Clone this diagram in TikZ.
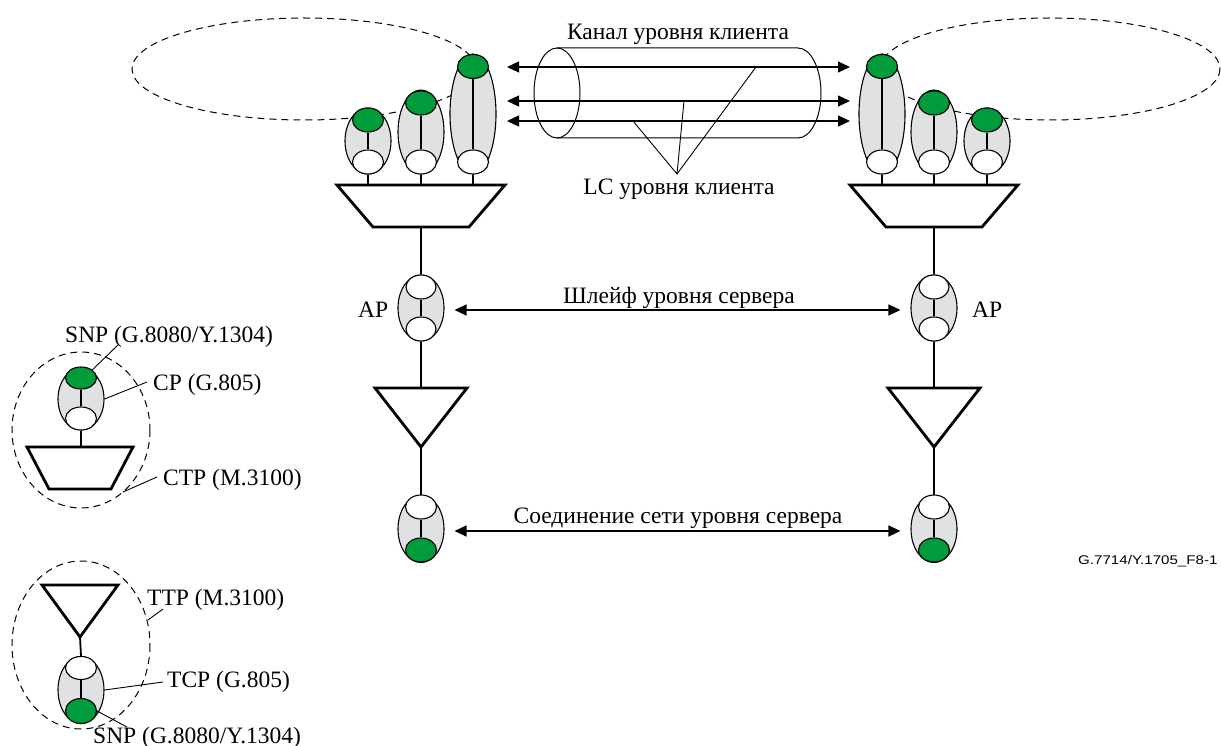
\documentclass[tikz,border=0pt]{standalone}
\usepackage{fontspec}
\setmainfont{Liberation Serif}
\newfontfamily\figsans{Liberation Sans}
\usetikzlibrary{shapes.geometric,arrows.meta}
\definecolor{snpgreen}{RGB}{0,155,58}
\definecolor{ovgray}{RGB}{224,225,227}
\newcommand\lblsize{\fontsize{23.5}{28}\selectfont}
\begin{document}
\begin{tikzpicture}[x=1pt,y=-1pt,
  cpoval/.style={ellipse, draw, line width=1.1pt, fill=ovgray, inner sep=0pt, minimum width=46pt},
  snpdot/.style={ellipse, draw, line width=1.1pt, fill=snpgreen, inner sep=0pt, minimum width=31pt, minimum height=24pt},
  cpdot/.style={ellipse, draw, line width=1.1pt, fill=white, inner sep=0pt, minimum width=31pt, minimum height=24pt},
  stem/.style={line width=1.8pt},
  link/.style={line width=1.8pt},
  fnshape/.style={line width=2.8pt, line join=miter},
  ring/.style={line width=1pt, dash pattern=on 7pt off 5pt},
  biarrow/.style={line width=1.2pt, {Triangle[length=12pt,width=11pt]}-{Triangle[length=12pt,width=11pt]}},
  leader/.style={line width=0.9pt},
  lbl/.style={font=\lblsize, inner sep=0pt}
]
\useasboundingbox (0,0) rectangle (1221,746);

% ---- dashed rings (client layer subnetworks)
\draw[ring] (304,69) ellipse [x radius=172, y radius=51];
\draw[ring] (1050,69) ellipse [x radius=170, y radius=51];

% ---- left client connection points
\node[cpoval, minimum height=66pt] (cpL1) at (368,141) {};
\node[snpdot] (snpL1) at (368,120) {};
\node[cpdot] (tL1) at (368,162) {};
\draw[stem] (snpL1.south) -- (tL1.north);
\node[cpoval, minimum height=84pt] (cpL2) at (421,132) {};
\node[snpdot] (snpL2) at (421,103) {};
\node[cpdot] (tL2) at (421,162) {};
\draw[stem] (snpL2.south) -- (tL2.north);
\node[cpoval, minimum height=120pt] (cpL3) at (473,114) {};
\node[snpdot] (snpL3) at (473,66.5) {};
\node[cpdot] (tL3) at (473,162) {};
\draw[stem] (snpL3.south) -- (tL3.north);

% ---- right client connection points
\node[cpoval, minimum height=66pt] (cpR1) at (987,141) {};
\node[snpdot] (snpR1) at (987,120) {};
\node[cpdot] (tR1) at (987,162) {};
\draw[stem] (snpR1.south) -- (tR1.north);
\node[cpoval, minimum height=84pt] (cpR2) at (934,132) {};
\node[snpdot] (snpR2) at (934,103) {};
\node[cpdot] (tR2) at (934,162) {};
\draw[stem] (snpR2.south) -- (tR2.north);
\node[cpoval, minimum height=120pt] (cpR3) at (882,114) {};
\node[snpdot] (snpR3) at (882,66.5) {};
\node[cpdot] (tR3) at (882,162) {};
\draw[stem] (snpR3.south) -- (tR3.north);

% ---- adaptation (trapezoids)
\coordinate (muxLtop) at (421,185);
\coordinate (muxLbot) at (421,227);
\draw[fnshape] (337,185) -- (505,185) -- (469,227) -- (373,227) -- cycle;
\coordinate (muxRtop) at (934,185);
\coordinate (muxRbot) at (934,227);
\draw[fnshape] (850,185) -- (1018,185) -- (982,227) -- (886,227) -- cycle;
\foreach \n in {L1,L2,L3}{\draw[link] (t\n.south) -- (t\n.south |- muxLtop);}
\foreach \n in {R1,R2,R3}{\draw[link] (t\n.south) -- (t\n.south |- muxRtop);}

% ---- access points
\node[cpoval, minimum height=66pt] (apL) at (421,308) {};
\node[cpdot, minimum width=30pt] (apLt) at (421,287) {};
\node[cpdot, minimum width=30pt] (apLb) at (421,329) {};
\draw[stem] (apLt.south) -- (apLb.north);
\draw[link] (muxLbot) -- (apL.north);
\node[cpoval, minimum height=66pt] (apR) at (934,308) {};
\node[cpdot, minimum width=30pt] (apRt) at (934,287) {};
\node[cpdot, minimum width=30pt] (apRb) at (934,329) {};
\draw[stem] (apRt.south) -- (apRb.north);
\draw[link] (muxRbot) -- (apR.north);
\node[lbl, anchor=base west] (apLlbl) at (358,317) {AP};
\node[lbl, anchor=base west] (apRlbl) at (972,317) {AP};

% ---- trail termination (triangles)
\coordinate (ttpLtop) at (421,388);
\coordinate (ttpLapex) at (421,447);
\draw[fnshape] (375,388) -- (467,388) -- (ttpLapex) -- cycle;
\draw[link] (apL.south) -- (ttpLtop);
\coordinate (ttpRtop) at (934,388);
\coordinate (ttpRapex) at (934,447);
\draw[fnshape] (888,388) -- (980,388) -- (ttpRapex) -- cycle;
\draw[link] (apR.south) -- (ttpRtop);

% ---- termination connection points
\node[cpoval, minimum height=67pt] (tcpL) at (421,529) {};
\node[cpdot] (tcpLt) at (421,507) {};
\node[snpdot] (tcpLs) at (421,550) {};
\draw[stem] (tcpLt.south) -- (tcpLs.north);
\draw[link] (ttpLapex) -- (tcpL.north);
\node[cpoval, minimum height=67pt] (tcpR) at (934,529) {};
\node[cpdot] (tcpRt) at (934,507) {};
\node[snpdot] (tcpRs) at (934,550) {};
\draw[stem] (tcpRt.south) -- (tcpRs.north);
\draw[link] (ttpRapex) -- (tcpR.north);

% ---- server layer arrows
\draw[biarrow] ([xshift=10pt,yshift=-2pt]apL.east) -- ([xshift=-10pt,yshift=-2pt]apR.west);
\node[lbl, anchor=base] (trailLbl) at (679,303) {Шлейф уровня сервера};
\draw[biarrow] ([xshift=10pt,yshift=-2pt]tcpL.east) -- ([xshift=-10pt,yshift=-2pt]tcpR.west);
\node[lbl, anchor=base] (sncLbl) at (678,523) {Соединение сети уровня сервера};

% ---- client layer trail (cylinder) and link connections
\draw[line width=1pt] (557,93) ellipse [x radius=23, y radius=45];
\draw[line width=1pt] (557,48) -- (798,48) arc[start angle=-90, end angle=90, x radius=23, y radius=45] -- (557,138);
\coordinate (lc1l) at (507,67);  \coordinate (lc1r) at (850,67);
\coordinate (lc2l) at (507,101); \coordinate (lc2r) at (850,101);
\coordinate (lc3l) at (507,121); \coordinate (lc3r) at (850,121);
\draw[biarrow] (lc1l) -- (lc1r);
\draw[biarrow] (lc2l) -- (lc2r);
\draw[biarrow] (lc3l) -- (lc3r);
\node[lbl, anchor=base] (chanLbl) at (678,40) {Канал уровня клиента};
\node[lbl, anchor=base] (lcLbl) at (679,195) {LC уровня клиента};
\coordinate (lcfoot) at (677,174);
\coordinate (lcp1) at (756,67);
\coordinate (lcp2) at (684,101);
\coordinate (lcp3) at (633,121);
\draw[leader] (lcp3) -- (lcfoot) -- (lcp2);
\draw[leader] (lcfoot) -- (lcp1);

% ---- legend 1: CTP
\draw[ring] (81,430) ellipse [x radius=69, y radius=78];
\node[cpoval, minimum height=62pt] (lgcp) at (81,399) {};
\node[snpdot, minimum height=22pt] (lgsnp) at (81,378) {};
\node[cpdot, minimum height=23pt] (lgt) at (81,418.5) {};
\draw[stem] (lgsnp.south) -- (lgt.north);
\coordinate (lgctptop) at (80,447);
\draw[fnshape] (27,447) -- (133,447) -- (111,489) -- (49,489) -- cycle;
\draw[link] (lgt.south) -- (lgt.south |- lgctptop);
\node[lbl, anchor=base west] (lbSnp1) at (65,342) {SNP (G.8080/Y.1304)};
\node[lbl, anchor=base west] (lbCp) at (153,390) {CP (G.805)};
\node[lbl, anchor=base west] (lbCtp) at (163,485) {CTP (M.3100)};
\coordinate (ldSnp1) at (118,345);
\coordinate (ldCp) at (147,382);
\coordinate (ldCtp) at (157,477);
\coordinate (ldCtpEnd) at (123,492);
\draw[leader] (ldSnp1) -- (lgsnp.north east);
\draw[leader] (ldCp) -- (lgcp.east);
\draw[leader] (ldCtp) -- (ldCtpEnd);

% ---- legend 2: TTP
\draw[ring] (81,645) ellipse [x radius=69, y radius=84];
\coordinate (lgttpapex) at (80,637);
\draw[fnshape] (42,585) -- (118,585) -- (lgttpapex) -- cycle;
\node[cpoval, minimum height=67pt] (lgtcp) at (81,690) {};
\node[cpdot, minimum height=23pt] (lgtcpt) at (81,668) {};
\node[snpdot, minimum height=25pt] (lgtcps) at (81,711) {};
\draw[stem] (lgtcpt.south) -- (lgtcps.north);
\draw[link] (lgttpapex) -- (lgtcp.north);
\node[lbl, anchor=base west] (lbTtp) at (147,605) {TTP (M.3100)};
\node[lbl, anchor=base west] (lbTcp) at (167,687) {TCP (G.805)};
\node[lbl, anchor=base west] (lbSnp2) at (93,743) {SNP (G.8080/Y.1304)};
\coordinate (ldTtp) at (163,609);
\coordinate (ldTtpEnd) at (148,620);
\coordinate (ldTcp) at (163,682);
\coordinate (ldSnp2) at (127,727);
\draw[leader] (ldTtp) -- (ldTtpEnd);
\draw[leader] (ldTcp) -- (lgtcp.east);
\draw[leader] (ldSnp2) -- (lgtcps.east);

% ---- figure id
\node[inner sep=0pt, anchor=base west, font=\figsans\fontsize{12.6}{15}\selectfont] (figid) at (1078,564) {\scalebox{1.2}[1]{G.7714/Y.1705\_F8-1}};
\end{tikzpicture}
\end{document}
